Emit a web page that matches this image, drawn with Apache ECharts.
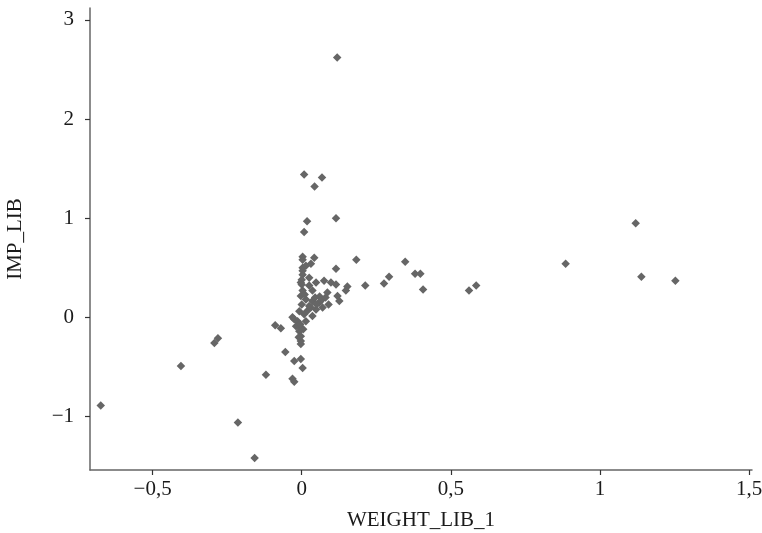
<!DOCTYPE html>
<html><head><meta charset="utf-8">
<script src="https://cdn.jsdelivr.net/npm/echarts@6/dist/echarts.min.js"></script>
<style>html,body{margin:0;padding:0;background:#fff}#c{width:762px;height:533px}</style>
</head><body><div id="c"></div>
<script>
const xTicks = [-0.5, 0, 0.5, 1, 1.5];
const yTicks = [-1, 0, 1, 2, 3];
const weightLib1 = [
 0.119, 0.008, 0.068, 0.043, 0.018, 0.115, 0.008, 1.120,
 0.003, 0.042, 0.003, 0.183, 0.031, 0.014, 0.003, 0.115, 0.003, 0.003, 0.025, -0.003,
 0.048, 0.075, 0.098, 0.115, 0.025, 0.003, 0.036, 0.153, 0.148, 0.086, 0.120, 0.126,
 -0.003, 0.014, 0.036, 0.059, 0.025, 0.048, 0.070, -0.008, 0.008, 0.036, -0.025, 0.010,
 0.000, 0.020, 0.060, 0.045, 0.030, 0.050, 0.090, 0.065, 0.080, 0.000, 0.000, -0.005, 0.005,
 0.213, 0.276, 0.293, 0.347, 0.380, 0.398, 0.407, 0.561, 0.585, 0.885, 1.139, 1.253,
 -0.031, -0.014, 0.014, -0.019, -0.008, -0.003, -0.003, -0.003, -0.089, -0.070, -0.055,
 -0.025, -0.003, 0.003, -0.031, -0.025, -0.120, -0.293, -0.281, -0.405, -0.214, -0.158,
 -0.674, -0.005, -0.010
];
const impLib = [
 2.62, 1.44, 1.41, 1.32, 0.97, 1.00, 0.86, 0.95,
 0.61, 0.60, 0.58, 0.58, 0.54, 0.52, 0.50, 0.49, 0.47, 0.43, 0.40, 0.35,
 0.35, 0.37, 0.35, 0.33, 0.32, 0.27, 0.27, 0.31, 0.27, 0.25, 0.215, 0.165,
 0.215, 0.18, 0.165, 0.15, 0.115, 0.08, 0.10, 0.06, 0.03, 0.013, -0.02, 0.23,
 0.13, 0.07, 0.21, 0.20, 0.10, 0.13, 0.13, 0.17, 0.20, 0.33, 0.38, -0.10, -0.12,
 0.32, 0.34, 0.41, 0.56, 0.44, 0.44, 0.28, 0.27, 0.32, 0.54, 0.41, 0.37,
 0.00, -0.04, -0.04, -0.09, -0.14, -0.19, -0.24, -0.27, -0.08, -0.11, -0.35,
 -0.44, -0.42, -0.51, -0.62, -0.65, -0.58, -0.26, -0.21, -0.49, -1.06, -1.42,
 -0.89, -0.07, -0.20
];
const points = weightLib1.map((x, i) => [x, impLib[i]]);
const fmt = v => String(v).replace('.', ',').replace('-', '\u2212');
const font = '"Liberation Serif", "DejaVu Serif", serif';
const axisCol = '#666';
const txtCol = '#1a1a1a';
const chart = echarts.init(document.getElementById('c'));
chart.setOption({
  animation: false,
  grid: { left: 90, right: 10, top: 8, bottom: 63, containLabel: false, outerBoundsMode: 'none' },
  xAxis: {
    type: 'value', min: -0.71, max: 1.51,
    name: 'WEIGHT_LIB_1', nameLocation: 'middle', nameGap: 40,
    nameTextStyle: { fontFamily: font, fontSize: 21, color: txtCol },
    axisLine: { show: true, onZero: false, lineStyle: { color: axisCol, width: 1.5 } },
    axisTick: { show: true, length: 5, customValues: xTicks, lineStyle: { color: '#333', width: 1.2 } },
    axisLabel: { customValues: xTicks, formatter: fmt, margin: 9, fontFamily: font, fontSize: 21, color: txtCol },
    splitLine: { show: false }
  },
  yAxis: {
    type: 'value', min: -1.54, max: 3.12,
    name: 'IMP_LIB', nameLocation: 'middle', nameGap: 64,
    nameTextStyle: { fontFamily: font, fontSize: 21, color: txtCol },
    axisLine: { show: true, onZero: false, lineStyle: { color: axisCol, width: 1.5 } },
    axisTick: { show: true, length: 5, customValues: yTicks, lineStyle: { color: '#333', width: 1.2 } },
    axisLabel: { customValues: yTicks, formatter: fmt, margin: 16, fontFamily: font, fontSize: 21, color: txtCol },
    splitLine: { show: false }
  },
  series: [{
    type: 'scatter', data: points, symbol: 'diamond', symbolSize: 8.5,
    itemStyle: { color: '#666', opacity: 1 }
  }]
});
</script></body></html>
